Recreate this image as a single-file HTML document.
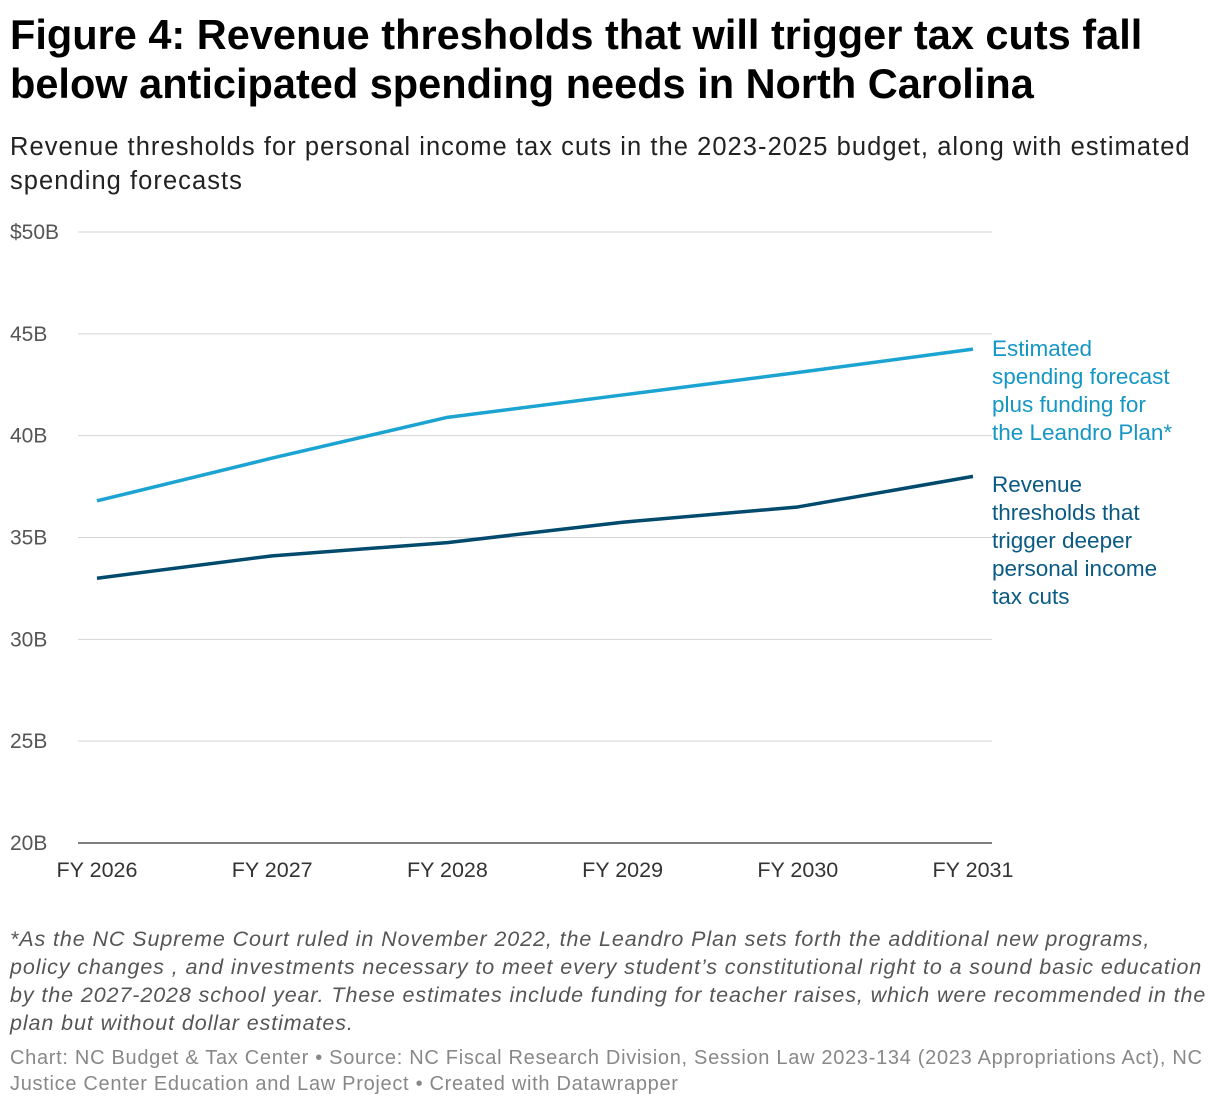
<!DOCTYPE html>
<html><head><meta charset="utf-8"><style>
body{margin:0;width:1220px;height:1108px;background:#fff;font-family:"Liberation Sans",sans-serif;position:relative;overflow:hidden}
h1{position:absolute;left:10px;top:10px;margin:0;font-size:41.5px;line-height:49px;font-weight:bold;color:#000;width:1200px}
.sub{position:absolute;left:10px;top:130px;font-size:25.5px;line-height:34px;color:#222;white-space:nowrap;letter-spacing:1.05px}
.note{position:absolute;left:10px;top:925px;font-size:21.5px;line-height:28px;font-style:italic;color:#555;white-space:nowrap;letter-spacing:0.9px}
.src{position:absolute;left:10px;top:1045px;font-size:20px;line-height:26px;color:#888;white-space:nowrap;letter-spacing:0.7px}
svg{position:absolute;left:0;top:0}
</style></head><body>
<h1>Figure 4: Revenue thresholds that will trigger tax cuts fall below anticipated spending needs in North Carolina</h1>
<div class="sub">Revenue thresholds for personal income tax cuts in the 2023-2025 budget, along with estimated<br>spending forecasts</div>
<svg id="chart" width="1220" height="1108"></svg>
<div class="note">*As the NC Supreme Court ruled in November 2022, the Leandro Plan sets forth the additional new programs,<br>policy changes , and investments necessary to meet every student’s constitutional right to a sound basic education<br>by the 2027-2028 school year. These estimates include funding for teacher raises, which were recommended in the<br>plan but without dollar estimates.</div>
<div class="src">Chart: NC Budget &amp; Tax Center • Source: NC Fiscal Research Division, Session Law 2023-134 (2023 Appropriations Act), NC<br>Justice Center Education and Law Project • Created with Datawrapper</div>
<script>
const categories=["FY 2026","FY 2027","FY 2028","FY 2029","FY 2030","FY 2031"];
const spending=[36.8,38.9,40.9,42.0,43.1,44.25];
const revenue=[33.0,34.1,34.75,35.75,36.5,38.0];
const yTicks=[20,25,30,35,40,45,50];
const yLabels=["20B","25B","30B","35B","40B","45B","$50B"];
const NS="http://www.w3.org/2000/svg";
const svg=document.getElementById("chart");
const y=v=>843-(v-20)*(843-232)/30;
const x=i=>97+i*(973-97)/(categories.length-1);
function mk(t,a,txt){const e=document.createElementNS(NS,t);for(const k in a)e.setAttribute(k,a[k]);if(txt!=null)e.textContent=txt;svg.appendChild(e);return e;}
yTicks.forEach((v,i)=>{
 const g=mk("line",{x1:78,x2:992,y1:y(v),y2:y(v),stroke:i==0?"#333":"#d4d4d4","stroke-width":i==0?1.3:1});
 
 
 const t=mk("text",{x:10,y:y(v)+7,"font-size":21,fill:"#555","font-family":"Liberation Sans"},yLabels[i]);
 
 
});
categories.forEach((c,i)=>{
 const t=mk("text",{x:x(i),y:877,"font-size":21.5,fill:"#333","text-anchor":"middle","font-family":"Liberation Sans"},c);
 
 
});
function line(data,col,name){
 const p=mk("polyline",{points:data.map((v,i)=>x(i)+","+y(v)).join(" "),fill:"none",stroke:col,"stroke-width":3.5,"stroke-linejoin":"round"});
 
 
}
line(spending,"#1ba3d2","spending-line");
line(revenue,"#004a6e","revenue-line");
function label(lines,top,col,name){
 const t=mk("text",{x:992,y:top,"font-size":22.5,fill:col,"font-family":"Liberation Sans"});
 
 
 lines.forEach((l,i)=>{const s=document.createElementNS(NS,"tspan");s.setAttribute("x",992);s.setAttribute("y",top+i*28);s.textContent=l;t.appendChild(s);});
}
label(["Estimated","spending forecast","plus funding for","the Leandro Plan*"],356,"#1596c4","spending-label");
label(["Revenue","thresholds that","trigger deeper","personal income","tax cuts"],492,"#0a5a84","revenue-label");
</script>
</body></html>
